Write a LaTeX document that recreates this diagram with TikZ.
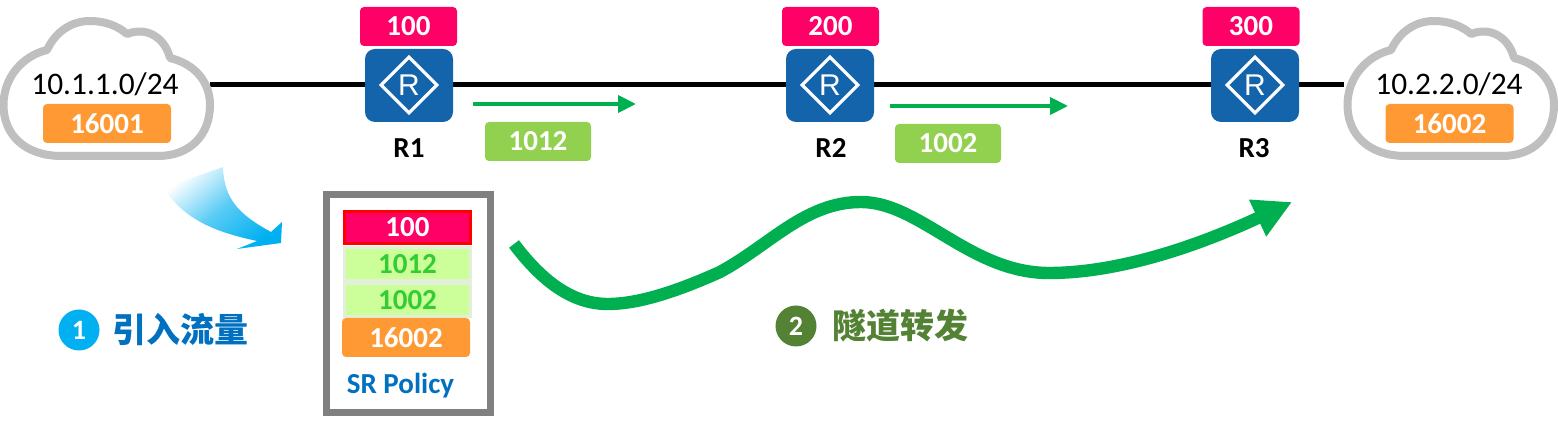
\documentclass[tikz,border=0pt]{standalone}
\usepackage{fontspec}
\setmainfont{Carlito}
\newfontfamily\cjkfont{Noto Sans CJK SC}
\newfontfamily\routerfont{Liberation Sans}
\usepackage{xcolor}
\usetikzlibrary{arrows.meta,positioning,shapes.geometric,backgrounds}

\definecolor{labelpink}{HTML}{FF0066}
\definecolor{labelorange}{HTML}{FF9933}
\definecolor{labelgreen}{HTML}{92D050}
\definecolor{stackgreen}{HTML}{CCFF99}
\definecolor{stackedge}{HTML}{E2F0D9}
\definecolor{stacktext}{HTML}{33CC33}
\definecolor{routerblue}{HTML}{1464AC}
\definecolor{cloudgray}{HTML}{BFBFBF}
\definecolor{pathgreen}{HTML}{00B050}
\definecolor{stepblue}{HTML}{00B0F0}
\definecolor{stepgreen}{HTML}{548235}
\definecolor{textblue}{HTML}{0070C0}

\begin{document}
\begin{tikzpicture}[
  x=0.5pt, y=-0.5pt,
  cloudbox/.style  = {minimum width=105pt, minimum height=70pt, inner sep=0pt},
  router/.style    = {fill=routerblue, rounded corners=5pt, inner sep=0pt,
                      minimum width=44pt, minimum height=36.5pt},
  routerR/.style   = {diamond, draw=white, line width=1.6pt, inner sep=0pt,
                      minimum size=28.5pt, text=white,
                      font=\routerfont\fontsize{15}{15}\selectfont},
  tag/.style       = {rounded corners=2pt, inner sep=0pt, text=white,
                      minimum width=48.5pt, minimum height=19.5pt,
                      font=\fontsize{14.5}{16}\selectfont\bfseries},
  pinktag/.style   = {tag, fill=labelpink},
  orangetag/.style = {tag, fill=labelorange, minimum width=64pt},
  greentag/.style  = {tag, fill=labelgreen, minimum width=53pt},
  stackred/.style  = {draw=red, line width=1.5pt, fill=labelpink, text=white, inner sep=0pt,
                      minimum width=63pt, minimum height=16pt,
                      font=\fontsize{14.5}{16}\selectfont\bfseries},
  stackseg/.style  = {draw=stackedge, line width=1.5pt, fill=stackgreen, text=stacktext, inner sep=0pt,
                      minimum width=63pt, minimum height=16.5pt,
                      font=\fontsize{14.5}{16}\selectfont\bfseries},
  routername/.style= {font=\fontsize{14.5}{16}\selectfont\bfseries},
  netname/.style   = {font=\fontsize{15.7}{17}\selectfont},
  stepdot/.style   = {circle, inner sep=0pt, minimum size=20.5pt, text=white,
                      font=\fontsize{14}{16}\selectfont\bfseries},
  steptext/.style  = {font=\cjkfont\bfseries\fontsize{17}{18}\selectfont},
  link/.style      = {line width=2.7pt, black},
  smallarr/.style  = {-{Triangle[length=9pt,width=8.5pt]}, line width=2pt, pathgreen},
  bigarr/.style    = {-{Triangle[length=19pt,width=19pt]}, line width=6.2pt, pathgreen},
  cloudline/.style = {draw=cloudgray, line width=4pt, fill=white, line join=round},
  cloudshape/.pic  = {
    \path[cloudline] (62,156)
      .. controls (25,156) and (3.5,135) .. (3.5,105)
      .. controls (3.5,78) and (22,56) .. (47,50)
      .. controls (56,31) and (72,21) .. (90,21)
      .. controls (105,21) and (118,26) .. (127,34)
      .. controls (147,26) and (165,38) .. (170,58)
      .. controls (195,64) and (210,82) .. (210,105)
      .. controls (210,135) and (190,156) .. (158,156)
      -- cycle;
  },
]
\useasboundingbox (0,0) rectangle (1558,421);

%% ── Clouds ───────────────────────────────────────────────
\node[cloudbox] (cloudA) at (105,88) {};
\node[cloudbox] (cloudB) at (1449,88) {};
\pic at (0,0) {cloudshape};
\pic at (1344,0) {cloudshape};
\node[netname] (netA) at (105,84) {10.1.1.0/24};
\node[netname] (netB) at (1449,84) {10.2.2.0/24};
\node[orangetag] (portA) at (107,123.5) {16001};
\node[orangetag] (portB) at (1449.5,123.5) {16002};

%% ── Routers ──────────────────────────────────────────────
\node[router] (R1) at (409,85.5) {};
\node[router] (R2) at (830,85.5) {};
\node[router] (R3) at (1255,85.5) {};
\node[routerR] (iconA) at (409,85) {R};
\node[routerR] (iconB) at (830,85) {R};
\node[routerR] (iconC) at (1255,85) {R};
\node[pinktag] (sidA) at (408.5,26.5) {100};
\node[pinktag] (sidB) at (830.5,26.5) {200};
\node[pinktag] (sidC) at (1251,26.5) {300};
\node[routername] (nameA) at (409,148) {R1};
\node[routername] (nameB) at (831,148) {R2};
\node[routername] (nameC) at (1254,148) {R3};

%% ── Links ────────────────────────────────────────────────
\begin{scope}[on background layer]
  \draw[link] (cloudA.east |- 0,84.5) -- (R1.west |- 0,84.5);
  \draw[link] (R1.east |- 0,84.5) -- (R2.west |- 0,84.5);
  \draw[link] (R2.east |- 0,84.5) -- (R3.west |- 0,84.5);
  \draw[link] (R3.east |- 0,84.5) -- (cloudB.west |- 0,84.5);
\end{scope}

%% ── Adjacency labels ─────────────────────────────────────
\coordinate (adjAs) at (473,104);
\coordinate (adjAe) at (636,104);
\coordinate (adjBs) at (890,106);
\coordinate (adjBe) at (1068,106);
\draw[smallarr] (adjAs) -- (adjAe);
\draw[smallarr] (adjBs) -- (adjBe);
\node[greentag] (adjA) at (538,141.5) {1012};
\node[greentag] (adjB) at (948,143.5) {1002};

%% ── SR Policy stack ──────────────────────────────────────
\node[draw=gray, line width=3.5pt, minimum width=82pt, minimum height=108.75pt, inner sep=0pt]
  (policy) at (408.5,303.75) {};
\node[stackred] (stackA) at (407.5,227.5) {100};
\node[stackseg] (stackB) at (407.5,264) {1012};
\node[stackseg] (stackC) at (407.5,300) {1002};
\node[orangetag, minimum width=64pt] (stackD) at (406,337.5) {16002};
\node[text=textblue, font=\fontsize{14.5}{16}\selectfont\bfseries] (policyname) at (400.5,386) {SR Policy};

%% ── Steps ────────────────────────────────────────────────
\path[shade, top color=white, bottom color=stepblue, middle color=stepblue!65, shading angle=40]
  (223,167) .. controls (224,200) and (240,215) .. (271,232)
  -- (282,222) -- (281,243) -- (237,249) -- (257,241)
  .. controls (215,232) and (185,220) .. (163,188) -- cycle;

\coordinate (waveS) at (514,244);
\coordinate (waveE) at (1292,202);
\draw[bigarr] (waveS)
  .. controls (545,285) and (575,304) .. (608,304)
  .. controls (640,304) and (680,290) .. (720,272)
  .. controls (770,245) and (805,202) .. (861,202)
  .. controls (920,202) and (970,273) .. (1049,273)
  .. controls (1120,273) and (1200,245) .. (waveE);

\node[stepdot, fill=stepblue] (stepA) at (79,330) {1};
\node[steptext, text=textblue, right=3pt of stepA] (stepAtext) {引入流量};
\node[stepdot, fill=stepgreen] (stepB) at (796,326) {2};
\node[steptext, text=stepgreen, right=4.5pt of stepB] (stepBtext) {隧道转发};

\end{tikzpicture}
\end{document}
